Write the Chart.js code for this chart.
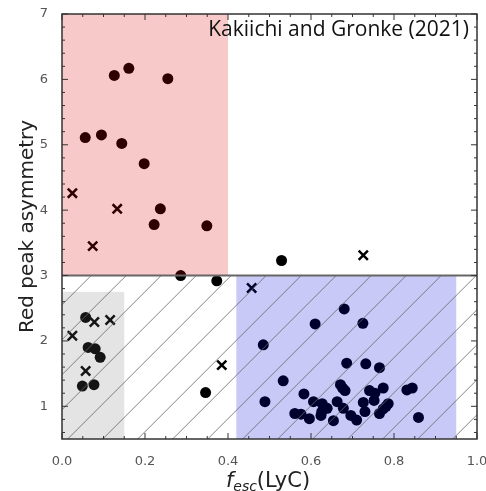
<!DOCTYPE html>
<html><head><meta charset="utf-8">
<script src="https://cdn.jsdelivr.net/npm/chart.js@4"></script>
<style>html,body{margin:0;padding:0;background:#fff}#w{width:486px;height:491px}</style>
</head><body><div id="w"><canvas id="c" width="486" height="491"></canvas></div>
<script>
// ---- data ----
const circleX = [0.126,0.161,0.255,0.056,0.095,0.144,0.198,0.237,0.222,0.349,
  0.286,0.373,0.529,
  0.057,0.063,0.080,0.092,0.049,0.077,0.346,
  0.680,0.610,0.725,0.485,0.686,0.732,0.765,0.533,0.671,0.676,0.682,0.583,0.489,0.741,0.754,0.774,0.831,0.844,0.606,0.627,0.639,0.663,0.726,0.752,0.786,0.781,0.561,0.576,0.596,0.624,0.626,0.654,0.678,0.696,0.710,0.730,0.765,0.774,0.859];
const circleY = [6.06,6.17,6.01,5.11,5.15,5.02,4.71,4.02,3.78,3.76,
  3.00,2.92,3.23,
  2.36,1.90,1.88,1.75,1.31,1.33,1.21,
  2.49,2.26,2.27,1.94,1.66,1.65,1.59,1.39,1.33,1.28,1.24,1.19,1.07,1.24,1.20,1.28,1.25,1.28,1.07,1.04,0.97,1.07,1.06,1.09,1.04,1.00,0.89,0.88,0.81,0.86,0.92,0.78,0.97,0.86,0.79,0.92,0.89,0.96,0.83];
const crossX = [0.025,0.133,0.074,0.726,0.078,0.116,0.025,0.057,0.385,0.457];
const crossY = [4.26,4.02,3.45,3.31,2.29,2.32,2.08,1.54,1.63,2.81];
const yTicks = [1,2,3,4,5,6,7];
const xTicks = [0,0.2,0.4,0.6,0.8,1.0];
// shaded regions [x0,x1,y0,y1]
const pinkBox = [0.0,0.40,3.0,7.0];
const grayBox = [0.0,0.15,0.5,2.75];
const blueBox = [0.42,0.95,0.5,3.0];
const hatchBox = [0.0,1.0,0.5,3.0];
const splitY = 3.0;
const citation = "Kakiichi and Gronke (2021)";

const toPts = (xs, ys) => xs.map((x,i)=>({x:x, y:ys[i]}));

const overlay = {
  id:'overlay',
  afterDatasetsDraw(chart){
    const ctx = chart.ctx, xs = chart.scales.x, ys = chart.scales.y, a = chart.chartArea;
    const box = (b, col) => {
      const x0 = xs.getPixelForValue(b[0]), x1 = xs.getPixelForValue(b[1]);
      const y0 = ys.getPixelForValue(b[3]), y1 = ys.getPixelForValue(b[2]);
      ctx.fillStyle = col; ctx.fillRect(x0, y0, x1-x0, y1-y0);
    };
    ctx.save();
    box(pinkBox, 'rgba(215,0,0,0.21)');
    box(grayBox, 'rgba(110,110,110,0.19)');
    box(blueBox, 'rgba(0,0,215,0.21)');
    // hatch
    const hx0 = xs.getPixelForValue(hatchBox[0]), hx1 = xs.getPixelForValue(hatchBox[1]);
    const hy0 = ys.getPixelForValue(hatchBox[3]), hy1 = ys.getPixelForValue(hatchBox[2]);
    ctx.save();
    ctx.beginPath(); ctx.rect(hx0, hy0, hx1-hx0, hy1-hy0); ctx.clip();
    ctx.strokeStyle = 'rgba(100,100,100,0.8)'; ctx.lineWidth = 1;
    const sp = 35, off = 16.7;
    for (let s = off; s < hx1 + hy1 + sp; s += sp) {
      ctx.beginPath(); ctx.moveTo(s - hy1, hy1); ctx.lineTo(s - hy0, hy0); ctx.stroke();
    }
    ctx.restore();
    // split line
    const sy = ys.getPixelForValue(splitY);
    ctx.strokeStyle = '#666'; ctx.lineWidth = 2;
    ctx.beginPath(); ctx.moveTo(a.left, sy); ctx.lineTo(a.right, sy); ctx.stroke();
    ctx.restore();
  },
  afterDraw(chart){
    const ctx = chart.ctx, xs = chart.scales.x, ys = chart.scales.y, a = chart.chartArea;
    ctx.save();
    ctx.strokeStyle = '#333'; ctx.lineWidth = 1.5;
    ctx.strokeRect(a.left, a.top, a.right-a.left, a.bottom-a.top);
    ctx.lineWidth = 1;
    // x ticks
    for (let i = 0; i <= 20; i++) {
      const v = i*0.05, px = xs.getPixelForValue(v), L = (i%4===0)?6:3;
      ctx.beginPath(); ctx.moveTo(px, a.bottom); ctx.lineTo(px, a.bottom-L);
      ctx.moveTo(px, a.top); ctx.lineTo(px, a.top+L); ctx.stroke();
    }
    for (let i = 3; i <= 35; i++) {
      const v = i*0.2, py = ys.getPixelForValue(v), L = (i%5===0)?6:3;
      ctx.beginPath(); ctx.moveTo(a.left, py); ctx.lineTo(a.left+L, py);
      ctx.moveTo(a.right, py); ctx.lineTo(a.right-L, py); ctx.stroke();
    }
    // citation
    ctx.fillStyle = '#111';
    ctx.font = '21px "Open Sans"';
    ctx.textAlign = 'right'; ctx.textBaseline = 'alphabetic';
    ctx.fillText(citation, a.right - 8, a.top + 22);
    // y title
    ctx.save();
    ctx.translate(28, (a.top+a.bottom)/2);
    ctx.rotate(-Math.PI/2);
    ctx.font = '20px "DejaVu Sans"'; ctx.textAlign = 'center'; ctx.textBaseline = 'middle';
    ctx.fillStyle = '#222';
    ctx.fillText('Red peak asymmetry', 0, 0);
    ctx.restore();
    // x title: f_esc(LyC)
    const parts = [
      {t:'f', f:'italic 21px "DejaVu Sans"', dy:0},
      {t:'esc', f:'italic 14px "DejaVu Sans"', dy:4},
      {t:'(LyC)', f:'21px "DejaVu Sans"', dy:0}
    ];
    let w = 0;
    parts.forEach(p=>{ctx.font=p.f; p.w=ctx.measureText(p.t).width; w+=p.w;});
    let x = 268 - w/2;
    const by = 487;
    ctx.textAlign = 'left'; ctx.textBaseline = 'alphabetic'; ctx.fillStyle = '#222';
    parts.forEach(p=>{ctx.font=p.f; ctx.fillText(p.t, x, by+p.dy); x+=p.w;});
    ctx.restore();
  }
};

new Chart(document.getElementById('c'), {
  type: 'scatter',
  data: {
    datasets: [
      {label:'circles', data: toPts(circleX, circleY), pointStyle:'circle', pointRadius:5.5,
       backgroundColor:'#000', borderColor:'#000', borderWidth:0},
      {label:'crosses', data: toPts(crossX, crossY), pointStyle:'crossRot', pointRadius:6.5,
       backgroundColor:'#000', borderColor:'#000', borderWidth:2.5}
    ]
  },
  options: {
    responsive:false, animation:false,
    layout:{padding:{left:0, right:9, top:14, bottom:0}},
    plugins:{legend:{display:false}, tooltip:{enabled:false}},
    scales:{
      x:{type:'linear', min:0, max:1,
        afterBuildTicks(s){ s.ticks = xTicks.map(v=>({value:v})); },
        afterFit(s){ s.height = 52; s.paddingLeft = 0; s.paddingRight = 0; },
        grid:{display:false}, border:{display:false},
        ticks:{padding:7, color:'#555', font:{family:'DejaVu Sans', size:13},
          callback:(v)=>Number(v).toFixed(1), maxRotation:0}},
      y:{type:'linear', min:0.5, max:7,
        afterBuildTicks(s){ s.ticks = yTicks.map(v=>({value:v})); },
        afterFit(s){ s.width = 62; s.paddingTop = 0; s.paddingBottom = 0; },
        grid:{display:false}, border:{display:false},
        ticks:{padding:6, color:'#555', font:{family:'DejaVu Sans', size:13},
          callback:(v)=>String(v)}}
    }
  },
  plugins:[overlay]
});
</script>
</body></html>
